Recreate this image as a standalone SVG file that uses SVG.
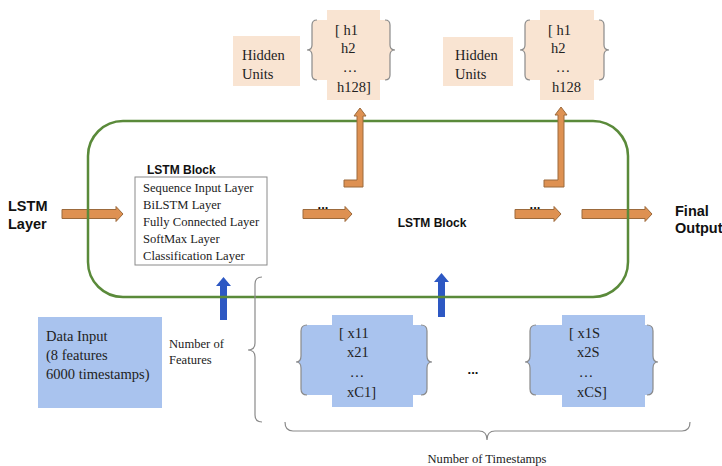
<svg xmlns="http://www.w3.org/2000/svg" width="722" height="466" viewBox="0 0 722 466">
<style>
.serif{font-family:"Liberation Serif","Times New Roman",serif;fill:#222;}
.s145{font-size:14.5px;}
.s126{font-size:12.6px;}
.bold{font-family:"Liberation Sans",Arial,sans-serif;font-weight:bold;fill:#111;}
.peach{fill:#f9e4d2;stroke:none;}
.blue{fill:#a9c3ee;stroke:none;}
.brace{fill:none;stroke:#8a8a8a;stroke-width:1.2;}
.orange{fill:#de9152;stroke:#9c6a3c;stroke-width:1;}
.barrow{fill:#2d58c3;stroke:none;}
.green{fill:none;stroke:#5a8a3a;stroke-width:2.5;}
</style>
<rect width="722" height="466" fill="#ffffff"/>

<g id="connectors-under">
  <!-- horizontal orange arrows -->
  <polygon class="orange" points="62,209.5 116,209.5 116,206.5 123,214 116,221.5 116,218.5 62,218.5"/>
  <polygon class="orange" points="303,209.5 345,209.5 345,206.5 352,214 345,221.5 345,218.5 303,218.5"/>
  <polygon class="orange" points="515,209.5 554,209.5 554,206.5 561,214 554,221.5 554,218.5 515,218.5"/>
  <polygon class="orange" points="582,209.5 645,209.5 645,206.5 652,214 645,221.5 645,218.5 582,218.5"/>
  <!-- blue up arrows -->
  <polygon class="barrow" points="220,320 220,286 216,286 223.5,277 231,286 227,286 227,320"/>
  <polygon class="barrow" points="438,317 438,282 434,282 441.5,273 449,282 445,282 445,317"/>
</g>

<g id="lstm-layer">
  <rect class="green" x="88" y="121" width="540" height="176" rx="35" ry="35"/>
</g>

<g id="connectors">
  <polygon class="orange" points="344,180 357,180 357,116 354,116 360,108 366,116 363,116 363,187 344,187"/>
  <polygon class="orange" points="544,180 558,180 558,115 555,115 561,107 567,115 564,115 564,187 544,187"/>
  <text class="bold" x="323" y="209" font-size="13" text-anchor="middle">...</text>
  <text class="bold" x="535" y="209" font-size="13" text-anchor="middle">...</text>
</g>

<g id="label-lstm-layer">
  <text class="bold" x="8" y="211" font-size="14.5">LSTM</text>
  <text class="bold" x="8" y="229" font-size="14.5">Layer</text>
</g>

<g id="label-final-output">
  <text class="bold" x="675" y="216" font-size="14.5">Final</text>
  <text class="bold" x="675" y="233" font-size="14.5">Output</text>
</g>

<g id="lstm-block-center">
  <text class="bold" x="432" y="227" font-size="12" text-anchor="middle">LSTM Block</text>
</g>

<g id="lstm-block">
  <text class="bold" x="147" y="174" font-size="12">LSTM Block</text>
  <rect x="135" y="177" width="132" height="88" fill="#ffffff" stroke="#8a8a8a" stroke-width="1"/>
  <text class="serif s126" x="143" y="192">Sequence Input Layer</text>
  <text class="serif s126" x="143" y="209">BiLSTM Layer</text>
  <text class="serif s126" x="143" y="226">Fully Connected Layer</text>
  <text class="serif s126" x="143" y="243">SoftMax Layer</text>
  <text class="serif s126" x="143" y="260">Classification Layer</text>
</g>

<g id="hidden-units-1">
  <rect class="peach" x="233" y="36" width="67" height="50"/>
  <text class="serif s145" x="242" y="60">Hidden</text>
  <text class="serif s145" x="242" y="79">Units</text>
</g>
<g id="hidden-vector-1">
  <rect class="peach" x="327" y="10" width="53" height="90"/>
  <path class="peach" d="M317,20 L385,20 Q390,20 390,25 L390,45 Q390,50 395,50 Q390,50 390,55 L390,75 Q390,80 385,80 L317,80 Q312,80 312,75 L312,55 Q312,50 307,50 Q312,50 312,45 L312,25 Q312,20 317,20 Z"/>
  <path class="brace" d="M317,20 Q312,20 312,25 L312,45 Q312,50 307,50 Q312,50 312,55 L312,75 Q312,80 317,80"/>
  <path class="brace" d="M385,20 Q390,20 390,25 L390,45 Q390,50 395,50 Q390,50 390,55 L390,75 Q390,80 385,80"/>
  <text class="serif s145" x="335" y="35">[ h1</text>
  <text class="serif s145" x="341" y="53">h2</text>
  <text class="serif s145" x="350" y="72" text-anchor="middle">…</text>
  <text class="serif s145" x="337" y="92">h128]</text>
</g>

<g id="hidden-units-2">
  <rect class="peach" x="443" y="37" width="70" height="49"/>
  <text class="serif s145" x="455" y="60">Hidden</text>
  <text class="serif s145" x="455" y="79">Units</text>
</g>
<g id="hidden-vector-2">
  <rect class="peach" x="540" y="10" width="54" height="90"/>
  <path class="peach" d="M530,20 L599,20 Q604,20 604,25 L604,45 Q604,50 609,50 Q604,50 604,55 L604,75 Q604,80 599,80 L530,80 Q525,80 525,75 L525,55 Q525,50 520,50 Q525,50 525,45 L525,25 Q525,20 530,20 Z"/>
  <path class="brace" d="M530,20 Q525,20 525,25 L525,45 Q525,50 520,50 Q525,50 525,55 L525,75 Q525,80 530,80"/>
  <path class="brace" d="M599,20 Q604,20 604,25 L604,45 Q604,50 609,50 Q604,50 604,55 L604,75 Q604,80 599,80"/>
  <text class="serif s145" x="548" y="35">[ h1</text>
  <text class="serif s145" x="551" y="53">h2</text>
  <text class="serif s145" x="563" y="72" text-anchor="middle">…</text>
  <text class="serif s145" x="552" y="92">h128</text>
</g>

<g id="data-input">
  <rect class="blue" x="38" y="317" width="124" height="91"/>
  <text class="serif s145" x="46" y="341">Data Input</text>
  <text class="serif s145" x="46" y="360">(8 features</text>
  <text class="serif s145" x="46" y="379">6000 timestamps)</text>
</g>

<g id="number-of-features">
  <text class="serif s126" x="169" y="348">Number of</text>
  <text class="serif s126" x="169" y="364">Features</text>
  <path class="brace" d="M262,277 Q255,277 255,284 L255,343 Q255,350 248,350 Q255,350 255,357 L255,415 Q255,422 262,422"/>
</g>

<g id="input-vector-1">
  <rect class="blue" x="332" y="315" width="81" height="92"/>
  <path class="blue" d="M307,325 L421,325 Q427,325 427,331 L427,356 Q427,362 432,362 Q427,362 427,368 L427,389 Q427,395 421,395 L307,395 Q301,395 301,389 L301,368 Q301,362 296,362 Q301,362 301,356 L301,331 Q301,325 307,325 Z"/>
  <path class="brace" d="M307,325 Q301,325 301,331 L301,356 Q301,362 296,362 Q301,362 301,368 L301,389 Q301,395 307,395"/>
  <path class="brace" d="M421,325 Q427,325 427,331 L427,356 Q427,362 432,362 Q427,362 427,368 L427,389 Q427,395 421,395"/>
  <text class="serif s145" x="339" y="338">[ x11</text>
  <text class="serif s145" x="347" y="357">x21</text>
  <text class="serif s145" x="357" y="377" text-anchor="middle">…</text>
  <text class="serif s145" x="347" y="397">xC1]</text>
</g>

<g id="input-ellipsis">
  <text class="bold" x="473" y="374" font-size="13" text-anchor="middle">...</text>
</g>

<g id="input-vector-S">
  <rect class="blue" x="562" y="315" width="83" height="92"/>
  <path class="blue" d="M536,325 L647,325 Q653,325 653,331 L653,356 Q653,362 658,362 Q653,362 653,368 L653,389 Q653,395 647,395 L536,395 Q530,395 530,389 L530,368 Q530,362 525,362 Q530,362 530,356 L530,331 Q530,325 536,325 Z"/>
  <path class="brace" d="M536,325 Q530,325 530,331 L530,356 Q530,362 525,362 Q530,362 530,368 L530,389 Q530,395 536,395"/>
  <path class="brace" d="M647,325 Q653,325 653,331 L653,356 Q653,362 658,362 Q653,362 653,368 L653,389 Q653,395 647,395"/>
  <text class="serif s145" x="569" y="338">[ x1S</text>
  <text class="serif s145" x="577" y="357">x2S</text>
  <text class="serif s145" x="586" y="377" text-anchor="middle">…</text>
  <text class="serif s145" x="577" y="397">xCS]</text>
</g>

<g id="number-of-timestamps">
  <path class="brace" d="M285,422 Q285,431 293,431 L479,431 Q487,431 487,440 Q487,431 495,431 L682,431 Q690,431 690,422"/>
  <text class="serif s126" x="487" y="463" text-anchor="middle">Number of Timestamps</text>
</g>
</svg>
